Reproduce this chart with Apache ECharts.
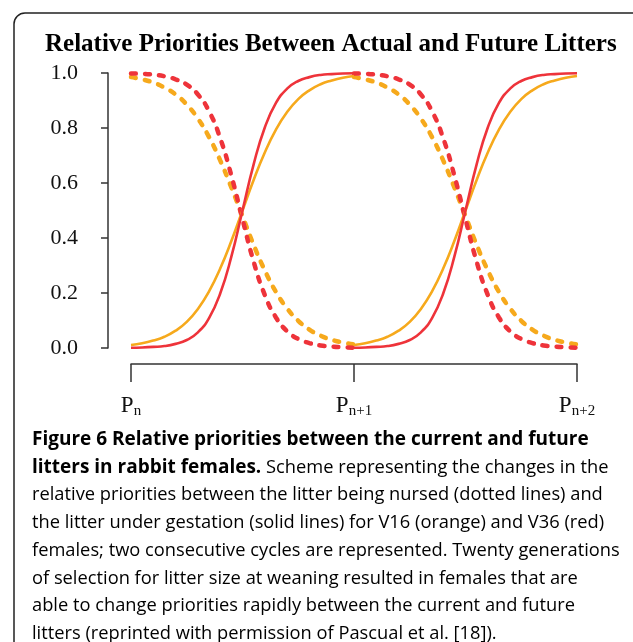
<!DOCTYPE html>
<html>
<head>
<meta charset="utf-8">
<script src="https://cdn.jsdelivr.net/npm/echarts@6/dist/echarts.min.js"></script>
<style>
html,body{margin:0;padding:0;background:#fff;}
#chart{width:633px;height:642px;}
</style>
</head>
<body>
<div id="chart"></div>
<script>
// ---- data (two consecutive cycles, x in cycle units) ----
var xValues = [0,0.05,0.1,0.15,0.2,0.25,0.3,0.35,0.4,0.45,0.5,0.55,0.6,0.65,0.7,0.75,0.8,0.85,0.9,0.95,1,
               1.05,1.1,1.15,1.2,1.25,1.3,1.35,1.4,1.45,1.5,1.55,1.6,1.65,1.7,1.75,1.8,1.85,1.9,1.95,2];
// V36 gestation (solid red)
var redSolid = [0.001,0.002,0.004,0.007,0.015,0.029,0.057,0.109,0.198,0.332,0.5,0.668,0.802,0.891,0.943,0.971,0.985,0.993,0.996,0.998,0.999,
                0.002,0.004,0.007,0.015,0.029,0.057,0.109,0.198,0.332,0.5,0.668,0.802,0.891,0.943,0.971,0.985,0.993,0.996,0.998,0.999];
// V16 gestation (solid orange)
var orangeSolid = [0.011,0.017,0.027,0.041,0.063,0.095,0.142,0.206,0.289,0.389,0.5,0.611,0.711,0.794,0.858,0.905,0.937,0.959,0.973,0.983,0.989,
                   0.017,0.027,0.041,0.063,0.095,0.142,0.206,0.289,0.389,0.5,0.611,0.711,0.794,0.858,0.905,0.937,0.959,0.973,0.983,0.989];
// V36 nursed litter (dotted red), first and second cycle
var redDotted = [0.998,0.997,0.994,0.988,0.977,0.958,0.922,0.861,0.763,0.627,0.468,0.314,0.193,0.111,0.061,0.033,0.018,0.009,0.005,0.003,0.001];
var redDotted2 = [0.998,0.997,0.994,0.988,0.977,0.958,0.922,0.861,0.763,0.627,0.468,0.314,0.193,0.111,0.061,0.033,0.018,0.009,0.005,0.003,0.001];
// V16 nursed litter (dotted orange), first and second cycle
var orangeDotted = [0.985,0.977,0.965,0.947,0.922,0.885,0.834,0.767,0.682,0.584,0.479,0.375,0.282,0.204,0.144,0.099,0.067,0.045,0.030,0.020,0.013];
var orangeDotted2 = [0.985,0.977,0.965,0.947,0.922,0.885,0.834,0.767,0.682,0.584,0.479,0.375,0.282,0.204,0.144,0.099,0.067,0.045,0.030,0.020,0.013];
var xTickSubs = ['n','n+1','n+2'];

var titleText = 'Relative Priorities Between Actual and Future Litters';
var captionLines = [
  '{b|Figure 6 Relative priorities between the current and future}',
  '{b|litters in rabbit females.}{r| Scheme representing the changes in the}',
  '{r|relative priorities between the litter being nursed (dotted lines) and}',
  '{r|the litter under gestation (solid lines) for V16 (orange) and V36 (red)}',
  '{r|females; two consecutive cycles are represented. Twenty generations}',
  '{r|of selection for litter size at weaning resulted in females that are}',
  '{r|able to change priorities rapidly between the current and future}',
  '{r|litters (reprinted with permission of Pascual et al. [18]).}'
];

var RED = '#EE333A', ORANGE = '#F6A91C';
function pairs(xs, ys){ return xs.map(function(x,i){ return [x, ys[i]]; }); }
var dotX1 = xValues.slice(0,21), dotX2 = xValues.slice(20);

var chart = echarts.init(document.getElementById('chart'));
var serif = "'Liberation Serif','DejaVu Serif',serif";
var sans = "'Open Sans','Noto Sans',sans-serif";
var dashStyle = function(c){ return {color:c, width:4.5, type:[5,9], cap:'round'}; };
chart.setOption({
  backgroundColor:'#fff',
  animation:false,
  title:{
    text:titleText, left:40, top:27,
    textStyle:{fontFamily:serif, fontWeight:'bold', fontSize:25, color:'#000'}
  },
  grid:{left:131, right:56, top:73, bottom:294},
  xAxis:{
    type:'value', min:0, max:2, interval:1, offset:16,
    axisLine:{onZero:false, lineStyle:{color:'#333', width:1.5}},
    axisTick:{length:18, lineStyle:{color:'#333', width:1.5}},
    splitLine:{show:false},
    axisLabel:{
      margin:28,
      formatter:function(v){ return '{p|P}{s|' + xTickSubs[Math.round(v)] + '}'; },
      rich:{
        p:{fontFamily:serif, fontSize:23, color:'#111'},
        s:{fontFamily:serif, fontSize:15, color:'#111', padding:[12,0,0,0]}
      }
    }
  },
  yAxis:{
    type:'value', min:0, max:1, interval:0.2, offset:23,
    axisLine:{show:true, onZero:false, lineStyle:{color:'#333', width:1.5}},
    axisTick:{show:true, length:7, lineStyle:{color:'#333', width:1.5}},
    splitLine:{show:false},
    axisLabel:{margin:30, fontFamily:serif, fontSize:22, color:'#111',
      formatter:function(v){ return v.toFixed(1); }}
  },
  series:[
    {type:'line', data:pairs(dotX1, orangeDotted), smooth:true, symbol:'none', lineStyle:dashStyle(ORANGE), z:2},
    {type:'line', data:pairs(dotX2, orangeDotted2), smooth:true, symbol:'none', lineStyle:dashStyle(ORANGE), z:2},
    {type:'line', data:pairs(dotX1, redDotted), smooth:true, symbol:'none', lineStyle:dashStyle(RED), z:3},
    {type:'line', data:pairs(dotX2, redDotted2), smooth:true, symbol:'none', lineStyle:dashStyle(RED), z:3},
    {type:'line', data:pairs(xValues.slice(0,21), orangeSolid.slice(0,21)), smooth:true, symbol:'none', lineStyle:{color:ORANGE, width:2.6}, z:4},
    {type:'line', data:pairs(xValues.slice(20), [orangeSolid[0]].concat(orangeSolid.slice(21))), smooth:true, symbol:'none', lineStyle:{color:ORANGE, width:2.6}, z:4},
    {type:'line', data:pairs(xValues.slice(0,21), redSolid.slice(0,21)), smooth:true, symbol:'none', lineStyle:{color:RED, width:2.6}, z:5},
    {type:'line', data:pairs(xValues.slice(20), [redSolid[0]].concat(redSolid.slice(21))), smooth:true, symbol:'none', lineStyle:{color:RED, width:2.6}, z:5,
     clip:false,
     markLine:{silent:true, symbol:'none', label:{show:false},
       lineStyle:{color:'#111', width:2, type:[2,3.5]},
       data:[[{coord:[1,1]},{coord:[1,-0.058]}]]}}
  ],
  graphic:[
    {type:'rect', shape:{x:14, y:13, width:640, height:640, r:11}, style:{fill:'none', stroke:'#222', lineWidth:1.5}, silent:true},
    {type:'text', left:32, top:426, silent:true,
      style:{text:captionLines.join('\n'), lineHeight:27.7,
        rich:{
          b:{fontFamily:sans, fontWeight:'bold', fontSize:19, color:'#1a1a1a', lineHeight:27.7},
          r:{fontFamily:sans, fontSize:18.3, color:'#3a3a3a', lineHeight:27.7}
        }}}
  ]
});
</script>
</body>
</html>
